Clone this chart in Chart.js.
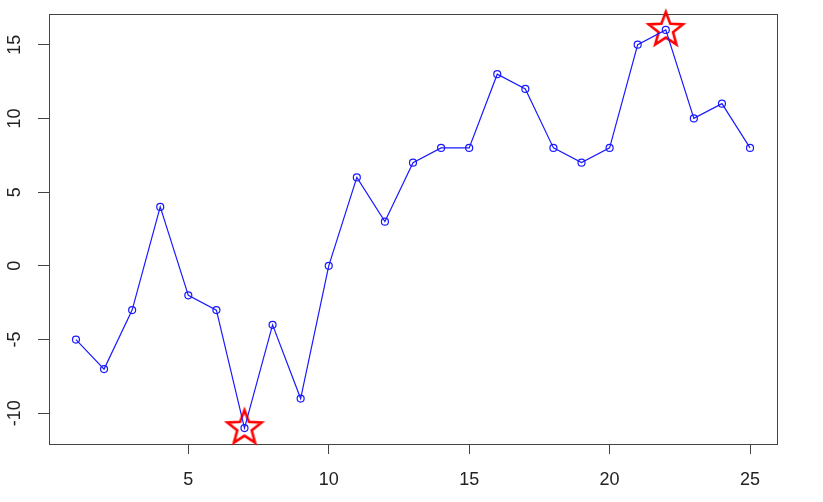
<!DOCTYPE html>
<html>
<head>
<meta charset="utf-8">
<script src="https://cdn.jsdelivr.net/npm/chart.js"></script>
<style>
body{margin:0;background:#fff;}
#contenitore{width:823px;height:502px;}
</style>
</head>
<body>
<div id="contenitore"><canvas id="grafico"></canvas></div>
<script>
// dati
const xValori = [1,2,3,4,5,6,7,8,9,10,11,12,13,14,15,16,17,18,19,20,21,22,23,24,25];
const yValori = [-5,-7,-3,4,-2,-3,-11,-4,-9,0,6,3,7,8,8,13,12,8,7,8,15,16,10,11,8];
const xTick = [5,10,15,20,25];
const yTick = [-10,-5,0,5,10,15];

const FONT = '"Liberation Sans", Arial, sans-serif';

window.onload = function(){
    disegnaGrafico(document.getElementById("grafico"));
}

function creaStella(){
    let c = document.createElement("canvas");
    c.width = 44;
    c.height = 44;
    let ctx = c.getContext("2d");
    let R = 18, r = 7.6;
    ctx.beginPath();
    for(let i=0;i<10;i++){
        let ang = -Math.PI/2 + i*Math.PI/5;
        let rr = (i%2==0) ? R : r;
        let px = 22 + rr*Math.cos(ang);
        let py = 22 + rr*Math.sin(ang);
        if(i==0) ctx.moveTo(px,py); else ctx.lineTo(px,py);
    }
    ctx.closePath();
    ctx.strokeStyle = "#ff0000";
    ctx.lineWidth = 2.6;
    ctx.lineJoin = "miter";
    ctx.stroke();
    return c;
}

function disegnaGrafico(canvas){
    let punti = xValori.map((x,i) => ({x:x, y:yValori[i]}));

    // min e max evidenziati con la stella
    let iMin = yValori.indexOf(Math.min(...yValori));
    let iMax = yValori.indexOf(Math.max(...yValori));
    let stelle = [punti[iMin], punti[iMax]];

    // intervallo come in R (+4%)
    let xr = (Math.max(...xValori) - Math.min(...xValori)) * 0.04;
    let yr = (Math.max(...yValori) - Math.min(...yValori)) * 0.04;

    const cornice = {
        id: "cornice",
        beforeDatasetsDraw(chart){
            let ctx = chart.ctx;
            let a = chart.chartArea;
            ctx.save();
            ctx.strokeStyle = "#444";
            ctx.lineWidth = 1;
            ctx.strokeRect(Math.round(a.left)+0.5, Math.round(a.top)+0.5, Math.round(a.right-a.left), Math.round(a.bottom-a.top));
            ctx.restore();
        },
        afterDraw(chart){
            let ctx = chart.ctx;
            let scala = chart.scales.y;
            ctx.save();
            ctx.fillStyle = "#222";
            ctx.font = "18px " + FONT;
            ctx.textAlign = "center";
            ctx.textBaseline = "middle";
            for(let v of yTick){
                let py = scala.getPixelForValue(v);
                ctx.save();
                ctx.translate(15, py);
                ctx.rotate(-Math.PI/2);
                ctx.fillText(String(v), 0, 0);
                ctx.restore();
            }
            ctx.restore();
        }
    };

    new Chart(canvas, {
        type: "scatter",
        data: {
            datasets: [{
                data: punti,
                showLine: true,
                borderColor: "#1a1aff",
                borderWidth: 1.2,
                pointRadius: 3.5,
                pointBorderWidth: 1.2,
                pointBorderColor: "#1a1aff",
                pointBackgroundColor: "rgba(0,0,0,0)",
                tension: 0
            },{
                data: stelle,
                showLine: false,
                pointStyle: creaStella(),
                clip: false
            }]
        },
        options: {
            responsive: true,
            maintainAspectRatio: false,
            animation: false,
            layout: { padding: { left: 0, right: 46, top: 14, bottom: 0 } },
            plugins: {
                legend: { display: false },
                tooltip: { enabled: false }
            },
            scales: {
                x: {
                    type: "linear",
                    min: Math.min(...xValori) - xr,
                    max: Math.max(...xValori) + xr,
                    afterBuildTicks: s => { s.ticks = xTick.map(v => ({value: v})); },
                    afterFit: s => { s.height = 58; },
                    border: { display: false },
                    grid: { drawOnChartArea: false, drawTicks: true, tickLength: 10, color: "#444" },
                    ticks: { color: "#222", padding: 15, maxRotation: 0, font: { size: 18, family: FONT } }
                },
                y: {
                    type: "linear",
                    min: Math.min(...yValori) - yr,
                    max: Math.max(...yValori) + yr,
                    afterBuildTicks: s => { s.ticks = yTick.map(v => ({value: v})); },
                    afterFit: s => { s.width = 49; },
                    border: { display: false },
                    grid: { drawOnChartArea: false, drawTicks: true, tickLength: 11, color: "#444" },
                    ticks: { display: false }
                }
            }
        },
        plugins: [cornice]
    });
}
</script>
</body>
</html>
